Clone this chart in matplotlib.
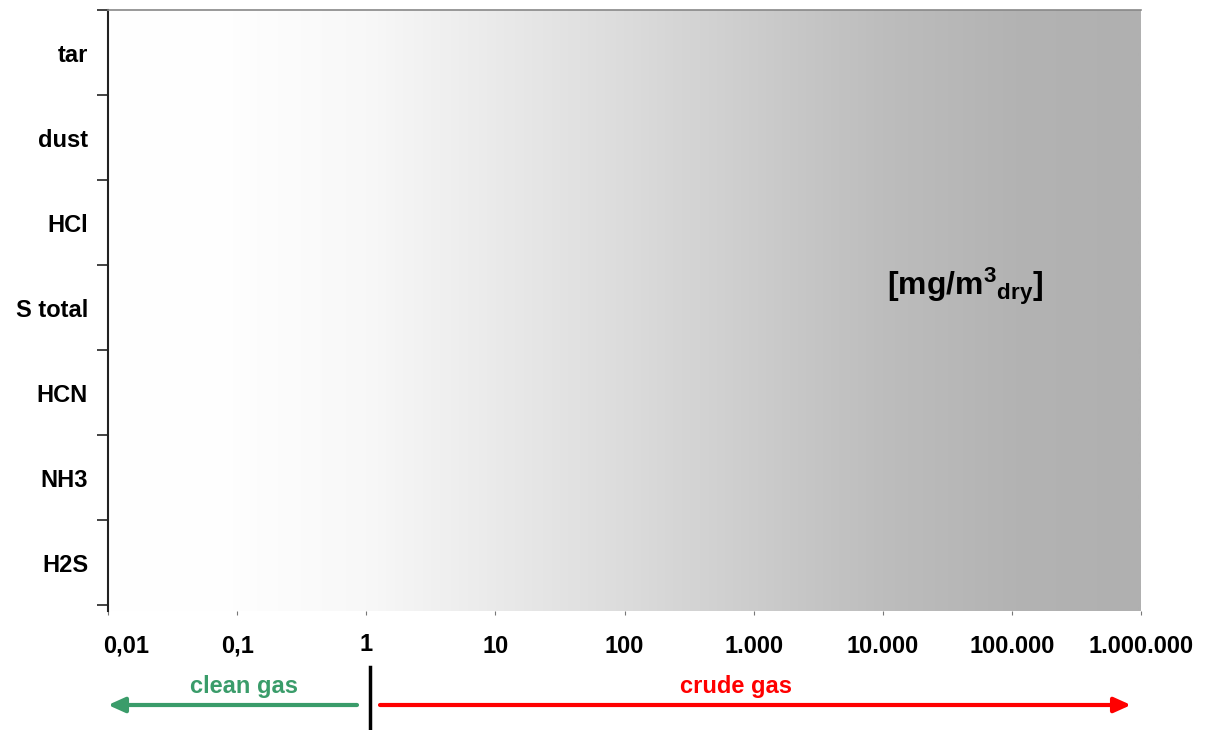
import matplotlib.pyplot as plt
import numpy as np
from matplotlib.colors import LinearSegmentedColormap
from matplotlib.transforms import ScaledTranslation

plt.rcParams["font.family"] = ["Liberation Sans", "DejaVu Sans"]
plt.rcParams["font.weight"] = "bold"
plt.rcParams["mathtext.fontset"] = "custom"
plt.rcParams["mathtext.rm"] = "Liberation Sans:bold"
plt.rcParams["mathtext.it"] = "Liberation Sans:bold"
plt.rcParams["mathtext.bf"] = "Liberation Sans:bold"

# data
components = ["H2S", "NH3", "HCN", "S total", "HCl", "dust", "tar"]
x_ticks = [0.01, 0.1, 1, 10, 100, 1e3, 1e4, 1e5, 1e6]
x_labels = ["0,01", "0,1", "1", "10", "100", "1.000", "10.000", "100.000", "1.000.000"]

fig = plt.figure(figsize=(12.14, 7.30), dpi=100)
ax = fig.add_axes([108 / 1214, 1 - 611 / 730, 1033 / 1214, 601 / 730])

ax.set_xscale("log")
ax.set_xlim(x_ticks[0], x_ticks[-1])
ax.set_ylim(-0.07, len(components))

# background gradient white -> grey (flat start, darker towards the right)
stops = [(0.0, 255), (0.12, 254), (0.25, 248), (0.5, 220), (0.75, 189),
         (0.88, 179), (1.0, 176)]
cmap = LinearSegmentedColormap.from_list(
    "bg", [(p, (g / 255, g / 255, g / 255)) for p, g in stops])
grad = np.linspace(0, 1, 512).reshape(1, -1)
ax.imshow(grad, cmap=cmap, aspect="auto", extent=[0, 1, 0, 1],
          transform=ax.transAxes, zorder=0)

# y axis: ticks at boundaries, labels at centres
ax.set_yticks(np.arange(len(components) + 1))
ax.set_yticklabels([])
ax.set_yticks(np.arange(len(components)) + 0.5, minor=True)
ax.set_yticklabels(components, minor=True, fontsize=17, fontweight="bold")
ax.tick_params(axis="y", which="major", direction="out", length=8, width=1.2,
               color="#222222")
ax.tick_params(axis="y", which="minor", length=0, pad=14.4)

ax.set_xticks(x_ticks)
ax.set_xticklabels(x_labels, fontsize=17, fontweight="bold")
ax.xaxis.set_minor_locator(plt.NullLocator())
ax.tick_params(axis="x", which="major", direction="out", length=3, width=0.8,
               color="#777777", pad=14)
xl = ax.get_xticklabels()
xl[0].set_transform(xl[0].get_transform() + ScaledTranslation(18 / 100, 0, fig.dpi_scale_trans))
xl[2].set_transform(xl[2].get_transform() + ScaledTranslation(0, 2 / 100, fig.dpi_scale_trans))

for side in ["right", "bottom"]:
    ax.spines[side].set_visible(False)
ax.spines["left"].set_color("#222222")
ax.spines["left"].set_linewidth(1.5)
ax.spines["top"].set_color("#888888")
ax.spines["top"].set_linewidth(1.2)

ax.text(0.83, 0.54, r"$\mathrm{[mg/m^{3}{}_{dry}]}$", transform=ax.transAxes,
        fontsize=23, ha="center", va="center")

# clean / crude gas arrows below the axis
y_arr = 1 - 705 / 730
fig.add_artist(plt.Line2D([370 / 1214, 370 / 1214], [0, 1 - 667 / 730],
                          color="black", lw=2.5, transform=fig.transFigure))
ax.annotate("", xy=(108 / 1214, y_arr), xytext=(357 / 1214, y_arr),
            xycoords="figure fraction",
            arrowprops=dict(arrowstyle="-|>,head_length=1.0,head_width=0.45",
                            color="#3a9c6a", lw=3, shrinkA=0, shrinkB=0))
ax.annotate("", xy=(1131 / 1214, y_arr), xytext=(380 / 1214, y_arr),
            xycoords="figure fraction",
            arrowprops=dict(arrowstyle="-|>,head_length=1.0,head_width=0.45",
                            color="#ff0000", lw=3, shrinkA=0, shrinkB=0))
fig.text(244 / 1214, 1 - 687 / 730, "clean gas", color="#3a9c6a", fontsize=17,
         fontweight="bold", ha="center", va="center")
fig.text(736 / 1214, 1 - 687 / 730, "crude gas", color="#ff0000", fontsize=17,
         fontweight="bold", ha="center", va="center")

fig.savefig("out.png", dpi=100)
